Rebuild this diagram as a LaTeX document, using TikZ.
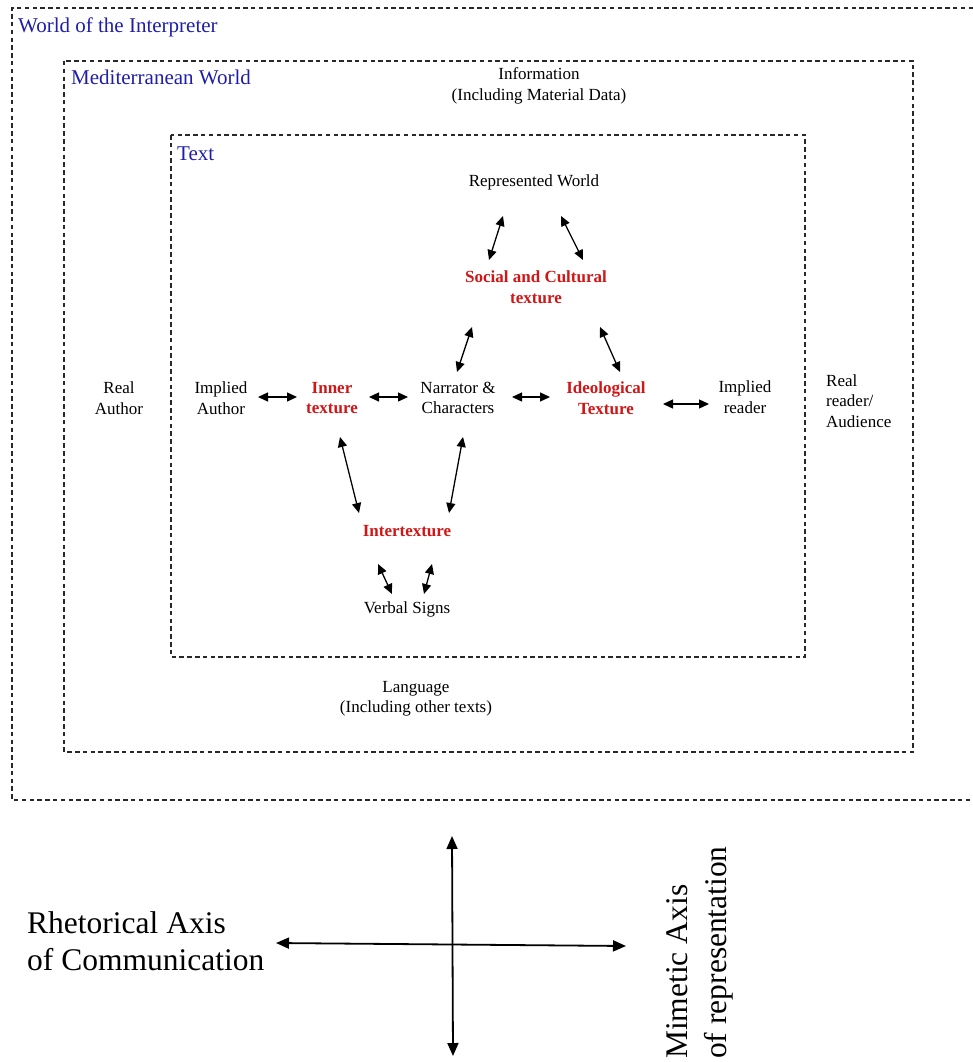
\documentclass[tikz,border=0pt]{standalone}
\usepackage{fontspec}
\setmainfont{Liberation Serif}
\newfontfamily\tnr{Liberation Serif}
\usetikzlibrary{arrows.meta,calc}
\definecolor{tblue}{RGB}{30,30,170}
\definecolor{tred}{RGB}{208,22,22}
\definecolor{fgray}{RGB}{40,40,40}
\begin{document}
\begin{tikzpicture}[x=1pt,y=-1pt,
  lbl/.style={align=center,inner sep=0pt,font=\tnr\fontsize{17}{20.5}\selectfont},
  texlbl/.style={align=center,inner sep=0pt,text=tred,font=\tnr\fontsize{17}{20.5}\selectfont\bfseries},
  titlelbl/.style={anchor=base west,inner sep=0pt,text=tblue,font=\tnr\fontsize{21}{24}\selectfont},
  axislbl/.style={anchor=base west,inner sep=0pt,font=\tnr\fontsize{31.5}{37}\selectfont},
  frame/.style={draw=fgray,line width=1.25pt,dash pattern=on 4.5pt off 3.3pt},
  dar/.style={{Triangle[length=10pt,width=9pt]}-{Triangle[length=10pt,width=9pt]},line width=1.3pt},
  axisar/.style={{Triangle[length=13pt,width=11pt]}-{Triangle[length=13pt,width=11pt]},line width=1.8pt}]
\useasboundingbox (0,0) rectangle (973,1062);

% frames
\draw[frame] (973,8) -- (12,8) -- (12,800) -- (973,800);
\draw[frame] (64,61) rectangle (913,752);
\draw[frame] (171,135) rectangle (805,657);

% titles
\node[titlelbl] (wi) at (18,33) {World of the Interpreter};
\node[titlelbl] (mw) at (71,85) {Mediterranean World};
\node[titlelbl] (tx) at (177,160) {Text};

% labels
\node[lbl] (info) at (539,86) {Information\\(Including Material Data)};
\node[lbl] (rw) at (534,182) {Represented World};
\node[texlbl] (soc) at (536,287) {Social and Cultural\\texture};
\node[lbl] (ra) at (119,398) {Real\\Author};
\node[lbl] (ia) at (221,398) {Implied\\Author};
\node[texlbl] (inner) at (332,398) {Inner\\texture};
\node[lbl] (nar) at (458,398) {Narrator \&\\Characters};
\node[texlbl] (ideo) at (606,398) {Ideological\\Texture};
\node[lbl] (ir) at (745,397) {Implied\\reader};
\node[lbl,align=left,anchor=west] (rr) at (826,401) {Real\\reader/\\Audience};
\node[texlbl] (inter) at (407,531) {Intertexture};
\node[lbl] (vs) at (407,609) {Verbal Signs};
\node[lbl] (lang) at (416,699) {Language\\(Including other texts)};

% connectors
\draw[dar] ($(rw)+(-31,34)$) -- ($(soc)+(-47,-27)$);
\draw[dar] ($(rw)+(27,34)$) -- ($(soc)+(47,-27)$);
\draw[dar] ($(soc)+(-64,40)$) -- ($(nar)+(-1,-26)$);
\draw[dar] ($(soc)+(64,40)$) -- ($(ideo)+(14,-26)$);
\draw[dar] ($(ia)+(37,-1)$) -- ($(inner)+(-35,-1)$);
\draw[dar] ($(inner)+(37,-1)$) -- ($(nar)+(-50,-1)$);
\draw[dar] ($(nar)+(54,-1)$) -- ($(ideo)+(-56,-1)$);
\draw[dar] ($(ideo)+(57,6)$) -- ($(ir)+(-36,7)$);
\draw[dar] ($(inner)+(8,39)$) -- ($(inter)+(-48,-18)$);
\draw[dar] ($(nar)+(5,39)$) -- ($(inter)+(42,-18)$);
\draw[dar] ($(inter)+(-29,33)$) -- ($(vs)+(-15,-15)$);
\draw[dar] ($(inter)+(25,33)$) -- ($(vs)+(17,-15)$);

% axes
\coordinate (hl) at (276,943);
\coordinate (hr) at (626,946);
\coordinate (vt) at (452,836);
\coordinate (vb) at (453,1056);
\draw[axisar] (hl) -- (hr);
\draw[axisar] (vt) -- (vb);
\node[axislbl] (rax1) at (27,933) {Rhetorical Axis};
\node[axislbl] (rax2) at (27,970) {of Communication};
\node[axislbl,rotate=90] (max1) at (687,1059) {Mimetic Axis};
\node[axislbl,rotate=90] (max2) at (726,1059) {of representation};
\end{tikzpicture}
\end{document}
